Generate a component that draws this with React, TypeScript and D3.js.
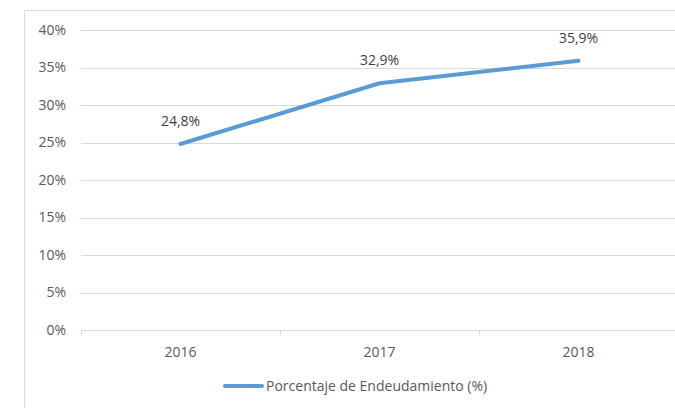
import { useEffect, useRef } from "react";
import * as d3 from "d3";

const years = ["2016", "2017", "2018"];
const debtPct = [24.8, 32.9, 35.9];
const yTicks = [0, 5, 10, 15, 20, 25, 30, 35, 40];
const seriesName = "Porcentaje de Endeudamiento (%)";

const W = 675;
const H = 408;
const FONT = "'Open Sans', sans-serif";
const FS = 14;

export default function App() {
  const svgRef = useRef<SVGSVGElement>(null);

  useEffect(() => {
    const svg = d3.select(svgRef.current);
    svg.selectAll("*").remove();

    // chart area frame (top + left edges visible)
    svg.append("path")
      .attr("d", `M24.5,${H} V10.5 H${W}`)
      .attr("fill", "none")
      .attr("stroke", "#d9d9d9");

    const x = d3.scaleBand().domain(years).range([81, 678]);
    const y = d3.scaleLinear().domain([0, 40]).range([330, 30]);

    // gridlines
    svg.append("g")
      .selectAll("line")
      .data(yTicks.slice(1))
      .join("line")
      .attr("x1", 81)
      .attr("x2", W)
      .attr("y1", (d) => Math.round(y(d)) + 0.5)
      .attr("y2", (d) => Math.round(y(d)) + 0.5)
      .attr("stroke", "#d9d9d9");

    // y tick labels
    svg.append("g")
      .selectAll("text")
      .data(yTicks)
      .join("text")
      .attr("x", 66)
      .attr("y", (d) => y(d))
      .attr("dy", "0.35em")
      .attr("text-anchor", "end")
      .attr("font-family", FONT)
      .attr("font-size", FS)
      .attr("fill", "#595959")
      .text((d) => `${d}%`);

    // x axis line + ticks
    const base = Math.round(y(0)) + 0.5;
    svg.append("line")
      .attr("x1", 81).attr("x2", W)
      .attr("y1", base).attr("y2", base)
      .attr("stroke", "#d9d9d9");
    const bounds = [81, ...years.map((d) => (x(d) as number) + x.bandwidth())];
    svg.append("g")
      .selectAll("line")
      .data(bounds)
      .join("line")
      .attr("x1", (d) => Math.round(d) + 0.5)
      .attr("x2", (d) => Math.round(d) + 0.5)
      .attr("y1", base)
      .attr("y2", base + 5)
      .attr("stroke", "#d9d9d9");

    svg.append("g")
      .selectAll("text")
      .data(years)
      .join("text")
      .attr("x", (d) => (x(d) as number) + x.bandwidth() / 2)
      .attr("y", 352)
      .attr("dy", "0.35em")
      .attr("text-anchor", "middle")
      .attr("font-family", FONT)
      .attr("font-size", FS)
      .attr("fill", "#595959")
      .text((d) => d);

    // line
    const pts: [number, number][] = years.map((d, i) => [
      (x(d) as number) + x.bandwidth() / 2,
      y(debtPct[i]),
    ]);
    svg.append("path")
      .attr("d", d3.line()(pts))
      .attr("fill", "none")
      .attr("stroke", "#5b9bd5")
      .attr("stroke-width", 4)
      .attr("stroke-linecap", "round")
      .attr("stroke-linejoin", "round");

    // data labels
    svg.append("g")
      .selectAll("text")
      .data(pts)
      .join("text")
      .attr("x", (d) => d[0])
      .attr("y", (d) => d[1] - 23)
      .attr("dy", "0.35em")
      .attr("text-anchor", "middle")
      .attr("font-family", FONT)
      .attr("font-size", FS)
      .attr("fill", "#404040")
      .text((_, i) => `${debtPct[i].toFixed(1).replace(".", ",")}%`);

    // legend
    const lg = svg.append("g").attr("transform", "translate(223,386)");
    lg.append("line")
      .attr("x1", 2).attr("x2", 39)
      .attr("stroke", "#5b9bd5")
      .attr("stroke-width", 4)
      .attr("stroke-linecap", "round");
    lg.append("text")
      .attr("x", 43)
      .attr("dy", "0.35em")
      .attr("font-family", FONT)
      .attr("font-size", FS)
      .attr("fill", "#595959")
      .text(seriesName);
  }, []);

  return (
    <svg
      ref={svgRef}
      width={W}
      height={H}
      style={{ position: "fixed", left: 0, top: 0, background: "#fff" }}
    />
  );
}
